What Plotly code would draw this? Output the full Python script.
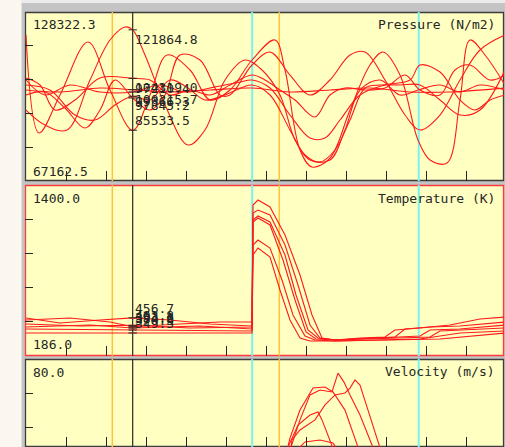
import plotly.graph_objects as go

# ---------------- data ----------------
# time axis units (ticks every 1.0)
cursor_t = 2.667
orange_t = [2.158, 6.333]
cyan_t = [5.655, 9.818]
x_ticks = [1, 2, 3, 4, 5, 6, 7, 8, 9, 10, 11]

# Pressure (N/m2)
p_min, p_max = 67162.5, 128322.3
p1_t = [0, 0.325, 0.85, 1.55, 2.1, 2.667, 3.1, 3.525, 4.1, 4.6, 5.1, 5.65, 6.225, 6.475, 6.85, 7.15, 7.6, 8.1, 8.6, 8.925, 9.35, 9.8, 10.1, 10.525, 10.85, 11.1, 11.475, 11.975]
p1_v = [120000, 84530, 98280, 117460, 100090, 85533.5, 98280, 112760, 107330, 96470, 100090, 110950, 118190, 107330, 78380, 72230, 75480, 92850, 109140, 113840, 105520, 82000, 74760, 73670, 96470, 118190, 112760, 101900]
p2_t = [0, 0.475, 1.025, 1.6, 2.1, 2.475, 2.667, 2.975, 3.475, 4.05, 4.475, 4.975, 5.475, 5.9, 6.35, 6.725, 7.1, 7.6, 7.975, 8.35, 8.85, 9.35, 9.8, 10.35, 10.85, 11.35, 11.975]
p2_v = [92850, 87420, 85610, 103710, 118190, 122890, 121864.8, 112760, 94660, 80190, 85610, 103710, 110950, 107330, 98280, 82000, 74760, 74760, 85610, 100090, 103710, 98280, 100090, 101900, 99370, 101900, 100090]
p3_t = [0, 0.35, 0.725, 1.225, 1.85, 2.667, 3.1, 3.6, 4.1, 4.6, 5.1, 5.65, 5.975, 6.35, 6.725, 7.225, 7.6, 7.975, 8.475, 8.975, 9.475, 9.85, 10.35, 10.725, 11.1, 11.6, 11.975]
p3_v = [104430, 101900, 92850, 96470, 104430, 104319.0, 103710, 98280, 100090, 98280, 101900, 105520, 103710, 100090, 96470, 90320, 98280, 100810, 100090, 100810, 105520, 100090, 98280, 107330, 109140, 103710, 105520]
p4_t = [0, 0.475, 1.1, 1.85, 2.667, 3.35, 3.975, 4.6, 5.35, 5.65, 6.1, 6.6, 7.1, 7.475, 7.85, 8.35, 8.975, 9.6, 9.85, 10.35, 10.85, 11.225, 11.6, 11.975]
p4_v = [103710, 98280, 101900, 99370, 99366.3, 101900, 99370, 100810, 102980, 103710, 100810, 91040, 82720, 82720, 89230, 98280, 101900, 103710, 109140, 106600, 96470, 92850, 96470, 98280]
p5_t = [0, 0.6, 1.225, 1.725, 2.225, 2.667, 3.1, 3.6, 4.05, 4.475, 4.975, 5.65, 6.1, 6.6, 6.975, 7.35, 7.725, 8.1, 8.475, 8.85, 9.35, 9.85, 10.35, 10.85, 11.35, 11.975]
p5_v = [101900, 100090, 91040, 89230, 94660, 97845.2, 96470, 103710, 100810, 96470, 98280, 101900, 98280, 85610, 76570, 74030, 78380, 89230, 100810, 101900, 101900, 101900, 96470, 91040, 92850, 107330]
p6_t = [0, 0.85, 1.85, 2.667, 3.6, 4.6, 5.65, 6.6, 7.6, 8.6, 9.6, 10.6, 11.975]
p6_v = [100090, 99370, 100810, 100215.7, 99370, 100090, 100810, 99370, 100090, 100810, 99370, 99370, 100810]
p7_t = [0, 0.475, 0.975, 1.475, 1.85, 2.225, 2.667, 3.1, 3.475, 3.85, 4.35, 4.85, 5.1, 5.65, 6.1, 6.6, 7.1, 7.6, 8.1, 8.475, 8.975, 9.475, 9.85, 10.35, 10.85, 11.35, 11.975]
p7_v = [98280, 99370, 93570, 86340, 92850, 103710, 97210.4, 92850, 98280, 112760, 110950, 98280, 98280, 109140, 113840, 105520, 98280, 103710, 112760, 113840, 103710, 91040, 85610, 91040, 103710, 114570, 120000]

# Temperature (K)
t_min, t_max = 186.0, 1400.0
t1_t = [0, 0.85, 1.85, 2.667, 3.6, 4.6, 5.65, 5.675, 5.8, 6.1, 6.475, 6.85, 7.15, 7.4, 7.725, 8.35, 8.975, 9.225, 9.85, 10.6, 11.35, 11.975]
t1_v = [455.8, 420.3, 441.6, 456.7, 441.6, 413.2, 399.0, 1257.9, 1293.4, 1243.8, 1045.0, 761.0, 477.1, 313.8, 299.6, 313.8, 320.9, 370.6, 384.8, 406.1, 448.7, 462.9]
t2_t = [0, 1.1, 2.1, 2.667, 3.85, 4.85, 5.65, 5.675, 5.8, 6.1, 6.475, 6.8, 7.1, 7.35, 7.725, 8.6, 9.225, 9.475, 10.1, 10.85, 11.975]
t2_v = [441.6, 455.8, 427.4, 393.2, 413.2, 427.4, 427.4, 1201.2, 1222.5, 1187.0, 974.0, 690.0, 406.1, 313.8, 299.6, 313.8, 320.9, 377.7, 391.9, 399.0, 427.4]
t3_t = [0, 1.35, 2.667, 4.1, 5.65, 5.675, 5.8, 6.1, 6.475, 6.75, 7.05, 7.3, 7.725, 8.85, 9.85, 10.1, 10.85, 11.975]
t3_v = [413.2, 399.0, 403.8, 384.8, 391.9, 1151.5, 1179.9, 1137.3, 903.0, 619.0, 370.6, 313.8, 299.6, 313.8, 328.0, 370.6, 377.7, 406.1]
t4_t = [0, 1.6, 2.667, 4.35, 5.65, 5.675, 5.8, 6.1, 6.425, 6.725, 7.0, 7.25, 7.725, 9.35, 10.1, 10.35, 11.975]
t4_v = [391.9, 406.1, 384.6, 399.0, 377.7, 1137.3, 1165.7, 1116.0, 867.5, 583.5, 356.4, 306.7, 299.6, 313.8, 320.9, 363.5, 384.8]
t5_t = [0, 2.667, 5.65, 5.675, 5.8, 6.1, 6.4, 6.675, 6.975, 7.225, 7.725, 9.85, 10.85, 11.975]
t5_v = [377.7, 370.3, 363.5, 974.0, 1009.5, 952.7, 725.5, 477.1, 328.0, 299.6, 292.5, 306.7, 349.3, 363.5]
t6_t = [0, 2.667, 5.65, 5.675, 5.8, 6.1, 6.35, 6.6, 6.85, 7.1, 7.725, 10.35, 11.975]
t6_v = [349.3, 349.5, 349.3, 903.0, 952.7, 888.8, 654.5, 441.6, 313.8, 292.5, 292.5, 306.7, 349.3]

# Velocity (m/s)
v_min, v_max = 0.0, 80.0
v1_t = [0, 5.85, 6.35, 6.6, 6.85, 7.1, 7.35, 7.65, 7.8, 7.95, 8.1, 8.35, 8.6, 8.8, 9.1, 9.6, 10.35, 11.975]
v1_v = [0.9, 0.9, 14.0, 37.4, 51.5, 63.2, 65.5, 64.6, 73.4, 69.2, 63.2, 53.8, 42.1, 32.7, 18.7, 7.0, 2.3, 1.4]
v2_t = [0, 5.975, 6.475, 6.65, 6.85, 7.225, 7.475, 7.725, 7.975, 8.1, 8.225, 8.35, 8.55, 8.725, 8.9, 9.225, 9.85, 11.975]
v2_v = [1.4, 1.4, 18.7, 42.1, 46.8, 51.5, 58.5, 63.2, 64.1, 66.4, 70.2, 67.8, 56.1, 44.4, 32.7, 16.4, 5.6, 1.9]
v3_t = [0, 5.725, 6.35, 6.6, 6.85, 7.175, 7.475, 7.675, 7.975, 8.225, 8.475, 8.85, 11.975]
v3_v = [1.9, 1.9, 23.4, 43.0, 56.1, 66.4, 66.9, 64.6, 56.1, 42.1, 23.4, 9.4, 2.3]
v4_t = [0, 6.1, 6.55, 6.8, 7.1, 7.3, 7.4, 7.6, 7.85, 8.225, 11.975]
v4_v = [0.5, 0.5, 38.8, 49.1, 53.8, 55.2, 51.5, 42.1, 28.1, 11.7, 0.9]
v5_t = [0, 6.225, 6.65, 6.975, 7.35, 7.675, 7.975, 8.35, 11.975]
v5_v = [0.0, 0.0, 35.1, 41.2, 42.1, 40.7, 32.7, 16.4, 0.5]
v6_t = [0, 6.475, 6.85, 7.35, 7.85, 8.35, 11.975]
v6_v = [0.5, 4.7, 28.1, 32.7, 28.1, 14.0, 0.9]

titles = ["Pressure (N/m2)", "Temperature (K)", "Velocity (m/s)"]

# ---------------- layout helpers ----------------
W, H = 505, 447
def px(x):
    return x / W
def py(y):
    return 1 - y / H

RED = "#ff1a1a"
YELLOW = "#ffffc2"
GREY = "#c4c4c4"
INK = "#262626"
FONT = "DejaVu Sans Mono"

x_range = [-0.025, 11.95]
panels = [  # (top px, bottom px, border colour)
    (12, 181, "#3c3c3c"),
    (185, 356, "#ff3a3a"),
    (359, 447, "#3c3c3c"),
]
v_visible_min = v_max - 88 * (v_max - v_min) / 171.0

fig = go.Figure()

groups = [
    ("x", "y", [(p1_t, p1_v), (p2_t, p2_v), (p3_t, p3_v), (p4_t, p4_v), (p5_t, p5_v), (p6_t, p6_v), (p7_t, p7_v)], "spline"),
    ("x2", "y2", [(t1_t, t1_v), (t2_t, t2_v), (t3_t, t3_v), (t4_t, t4_v), (t5_t, t5_v), (t6_t, t6_v)], "linear"),
    ("x3", "y3", [(v1_t, v1_v), (v2_t, v2_v), (v3_t, v3_v), (v4_t, v4_v), (v5_t, v5_v), (v6_t, v6_v)], "linear"),
]
for xa, ya, series, shape in groups:
    for ts, vs in series:
        fig.add_trace(go.Scatter(x=ts, y=vs, mode="lines", xaxis=xa, yaxis=ya,
                                 line=dict(color=RED, width=1.1, shape=shape, smoothing=1.0),
                                 hoverinfo="skip", showlegend=False))

annotations = []
# cursor tick marks and value labels (pressure + temperature)
for gi, (xa, ya, series, shape) in enumerate(groups[:2]):
    lo, hi = (p_min, p_max) if gi == 0 else (t_min, t_max)
    mid = (lo + hi) / 2
    cv = [vs[ts.index(cursor_t)] for ts, vs in series]
    fig.add_trace(go.Scatter(x=[cursor_t] * len(cv), y=cv, mode="markers", xaxis=xa, yaxis=ya,
                             marker=dict(symbol="line-ew", size=6, line=dict(color=INK, width=1)),
                             hoverinfo="skip", showlegend=False))
    for v in cv:
        annotations.append(dict(x=cursor_t, y=v, xref=xa, yref=ya, text=f"{v:.1f}",
                                showarrow=False, xanchor="left", xshift=0,
                                yanchor="top" if v > mid else "bottom",
                                font=dict(family=FONT, size=13, color=INK)))

# axes
axis_common = dict(showgrid=False, zeroline=False, showticklabels=False, showline=False)
layout_axes = {}
doms = []
for i, (top, bot, col) in enumerate(panels):
    doms.append([py(bot) if bot < H else 0.0, py(top)])
suffix = ["", "2", "3"]
yranges = [[p_min, p_max], [t_min, t_max], [v_visible_min, v_max]]
yticks = [
    [p_min + k * (p_max - p_min) / 5 for k in range(1, 5)],
    [t_min + k * (t_max - t_min) / 5 for k in range(1, 5)],
    [v_min + k * (v_max - v_min) / 5 for k in range(1, 5)],
]
for i in range(3):
    layout_axes["xaxis" + suffix[i]] = dict(axis_common, domain=[px(25), px(504)], range=x_range,
                                            anchor="y" + suffix[i], ticks="inside", ticklen=10,
                                            tickcolor=INK, tickwidth=1, tickvals=x_ticks)
    layout_axes["yaxis" + suffix[i]] = dict(axis_common, domain=doms[i], range=yranges[i],
                                            anchor="x" + suffix[i], ticks="inside", ticklen=8,
                                            tickcolor=INK, tickwidth=1, tickvals=yticks[i])

shapes = []
# background pieces
shapes.append(dict(type="rect", xref="paper", yref="paper", x0=0, x1=px(21), y0=0, y1=1,
                   fillcolor="#fbf7ef", line=dict(width=0), layer="below"))
shapes.append(dict(type="rect", xref="paper", yref="paper", x0=px(21), x1=1, y0=py(3), y1=1,
                   fillcolor="#ececec", line=dict(width=0), layer="below"))
shapes.append(dict(type="line", xref="paper", yref="paper", x0=px(21.5), x1=px(21.5), y0=0, y1=py(3),
                   line=dict(color="#e2e2e2", width=1), layer="below"))
for top, bot, col in panels:
    shapes.append(dict(type="rect", xref="paper", yref="paper", x0=px(25.5), x1=px(503.5),
                       y0=py(min(bot, H + 5) - 0.5), y1=py(top + 0.5),
                       fillcolor=YELLOW, line=dict(color=col, width=1.3), layer="below"))
# vertical marker lines per panel
for i in range(3):
    xa, ya = "x" + suffix[i], "y" + suffix[i] + " domain"
    for t in cyan_t:
        shapes.append(dict(type="line", xref=xa, yref=ya, x0=t, x1=t, y0=0, y1=1,
                           line=dict(color="#78f4ee", width=2), layer="below"))
    for t in orange_t:
        shapes.append(dict(type="line", xref=xa, yref=ya, x0=t, x1=t, y0=0, y1=1,
                           line=dict(color="#ffc23a", width=1.5), layer="below"))
    shapes.append(dict(type="line", xref=xa, yref=ya, x0=cursor_t, x1=cursor_t, y0=0, y1=1,
                       line=dict(color="#2a2a2a", width=1.2), layer="below"))

# titles and range labels
title_y = [25, 198.5, 371.5]
for i, txt in enumerate(titles):
    annotations.append(dict(x=px(497), y=py(title_y[i]), xref="paper", yref="paper", text=txt,
                            showarrow=False, xanchor="right", yanchor="middle",
                            font=dict(family=FONT, size=13, color=INK)))
range_labels = [
    (f"{p_max:.1f}", 25), (f"{p_min:.1f}", 171.5),
    (f"{t_max:.1f}", 198), (f"{t_min:.1f}", 344),
    (f"{v_max:.1f}", 372),
]
for txt, yy in range_labels:
    annotations.append(dict(x=px(31), y=py(yy), xref="paper", yref="paper", text=txt,
                            showarrow=False, xanchor="left", yanchor="middle",
                            font=dict(family=FONT, size=13, color=INK)))

fig.update_layout(width=W, height=H, margin=dict(l=0, r=0, t=0, b=0),
                  paper_bgcolor=GREY, plot_bgcolor="rgba(0,0,0,0)",
                  shapes=shapes, annotations=annotations, showlegend=False,
                  **layout_axes)

fig.write_html("out.html", config={"displayModeBar": False},
               post_script="document.body.style.margin='0';document.body.style.overflow='hidden';")
